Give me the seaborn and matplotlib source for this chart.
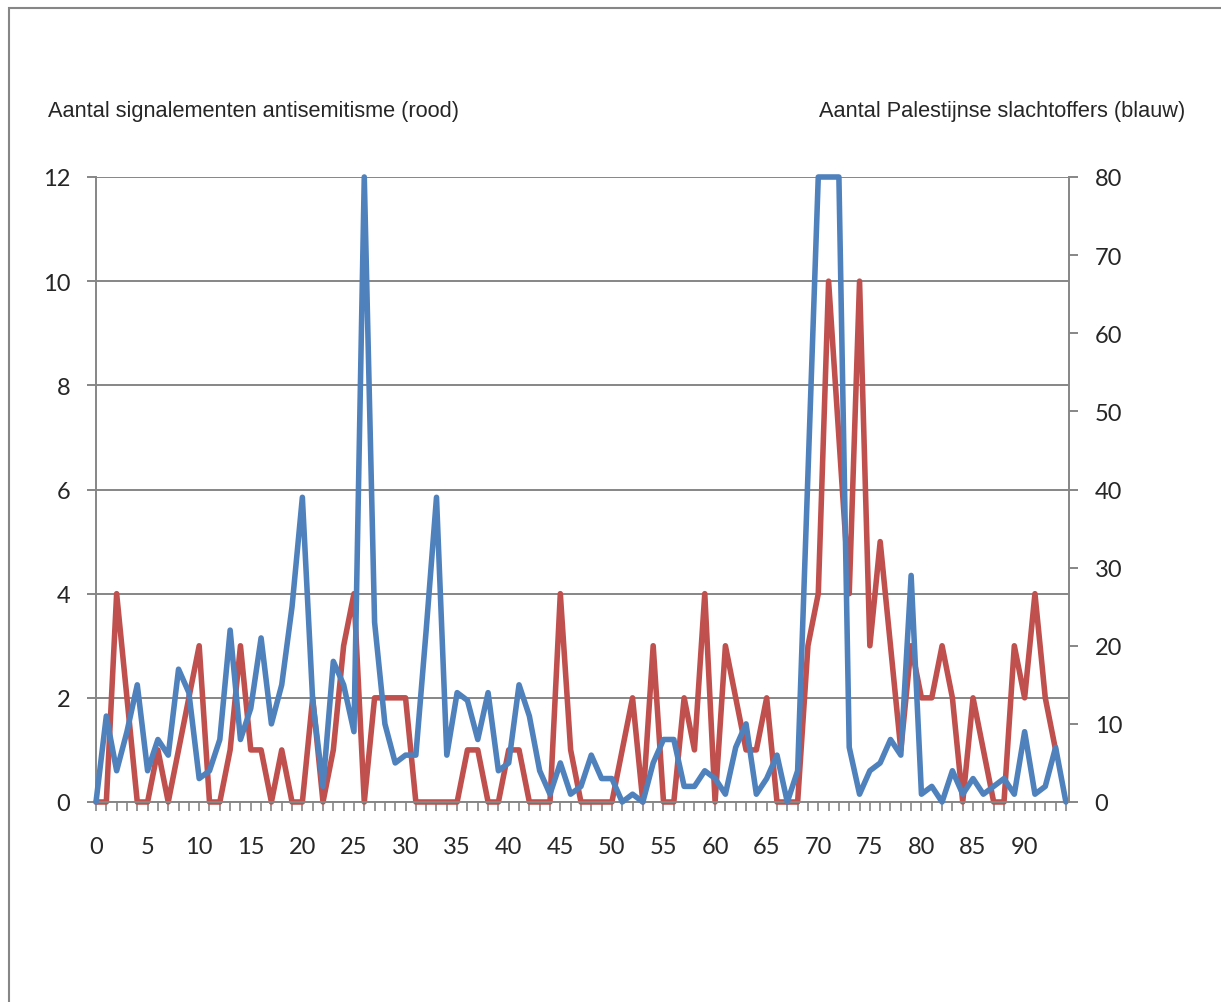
import matplotlib
matplotlib.use("Agg")
import matplotlib.pyplot as plt
import seaborn as sns
import numpy as np
from matplotlib.patches import Rectangle

# =====================================================
# DATA
# =====================================================

# daily count of antisemitism reports (red, left axis)
red_counts = [
    0, 0, 4, 2, 0, 0, 1, 0, 1, 2,
    3, 0, 0, 1, 3, 1, 1, 0, 1, 0,
    0, 2, 0, 1, 3, 4, 0, 2, 2, 2,
    2, 0, 0, 0, 0, 0, 1, 1, 0, 0,
    1, 1, 0, 0, 0, 4, 1, 0, 0, 0,
    0, 1, 2, 0, 3, 0, 0, 2, 1, 4,
    0, 3, 2, 1, 1, 2, 0, 0, 0, 3,
    4, 10, 7, 4, 10, 3, 5, 3, 1, 3,
    2, 2, 3, 2, 0, 2, 1, 0, 0, 3,
    2, 4, 2, 1,
]

# daily Palestinian casualties (blue, right axis, shown capped at 80)
blue_counts = [
    0, 11, 4, 9, 15, 4, 8, 6, 17, 14,
    3, 4, 8, 22, 8, 12, 21, 10, 15, 25,
    39, 13, 2, 18, 15, 9, 80, 23, 10, 5,
    6, 6, 22, 39, 6, 14, 13, 8, 14, 4,
    5, 15, 11, 4, 1, 5, 1, 2, 6, 3,
    3, 0, 1, 0, 5, 8, 8, 2, 2, 4,
    3, 1, 7, 10, 1, 3, 6, 0, 4, 42,
    80, 80, 80, 7, 1, 4, 5, 8, 6, 29,
    1, 2, 0, 4, 1, 3, 1, 2, 3, 1,
    9, 1, 2, 7, 0,
]

red_days = list(range(len(red_counts)))
blue_days = list(range(len(blue_counts)))

x_label_ticks = list(range(0, 95, 5))
left_ticks = [0, 2, 4, 6, 8, 10, 12]
right_ticks = [0, 10, 20, 30, 40, 50, 60, 70, 80]

left_title = "Aantal signalementen antisemitisme (rood)"
right_title = "Aantal Palestijnse slachtoffers (blauw)"

# =====================================================
# STYLE
# =====================================================

RED = "#C0504D"
BLUE = "#4F81BD"
GRAY = "#868686"

W, H = 1221, 1003

sns.set_style("white")
plt.rcParams["font.family"] = ["Lato", "DejaVu Sans"]

fig = plt.figure(figsize=(W / 100, H / 100), dpi=100)
ax = fig.add_axes([96 / W, 1 - 803 / H, (1069 - 96) / W, (803 - 178) / H])
ax2 = ax.twinx()

# =====================================================
# LINES
# =====================================================

sns.lineplot(x=red_days, y=red_counts, ax=ax, color=RED, linewidth=4.0,
             clip_on=False, solid_joinstyle="round", solid_capstyle="round")
sns.lineplot(x=blue_days, y=blue_counts, ax=ax2, color=BLUE, linewidth=4.0,
             clip_on=False, solid_joinstyle="round", solid_capstyle="round")

# =====================================================
# AXES
# =====================================================

ax.set_xlim(0, 94.3)
ax.set_ylim(0, 12)
ax2.set_ylim(0, 80)

ax.set_xticks(x_label_ticks)
ax.set_xticklabels([str(v) for v in x_label_ticks])
ax.set_xticks(range(0, 95), minor=True)
ax.set_yticks(left_ticks)
ax.set_yticklabels([str(v) for v in left_ticks])
ax2.set_yticks(right_ticks)
ax2.set_yticklabels([str(v) for v in right_ticks])

ax.yaxis.grid(True, color=GRAY, linewidth=1.4)
ax.xaxis.grid(False)
ax2.grid(False)

for a in (ax, ax2):
    for side in ("top", "right", "left", "bottom"):
        a.spines[side].set_visible(False)
ax.spines["left"].set_visible(True)
ax.spines["bottom"].set_visible(True)
ax2.spines["right"].set_visible(True)
for sp in (ax.spines["left"], ax.spines["bottom"], ax2.spines["right"]):
    sp.set_color(GRAY)
    sp.set_linewidth(1.4)

ax.set_xlabel("")
ax.set_ylabel("")
ax2.set_ylabel("")

ax.tick_params(axis="x", which="both", direction="out", length=6.5,
               width=1.2, color=GRAY, bottom=True)
ax.tick_params(axis="x", which="major", labelsize=17, pad=18)
ax.tick_params(axis="y", direction="out", length=6.5, width=1.4,
               color=GRAY, left=True, labelsize=17, pad=12)
ax2.tick_params(axis="y", direction="out", length=6.5, width=1.4,
                color=GRAY, right=True, labelsize=17, pad=12)

# =====================================================
# TITLES AND FRAME
# =====================================================

title_font = ["Liberation Sans", "DejaVu Sans"]
fig.text(48 / W, 1 - 111 / H, left_title, ha="left", va="center",
         fontsize=15.7, family=title_font)
fig.text(1185 / W, 1 - 111 / H, right_title, ha="right", va="center",
         fontsize=15.7, family=title_font)

fig.patches.append(Rectangle((9 / W, -0.1), 1.2, 1.1 - 9 / H,
                             transform=fig.transFigure, fill=False,
                             edgecolor=GRAY, linewidth=1.5))

fig.savefig("out.png", dpi=100)
